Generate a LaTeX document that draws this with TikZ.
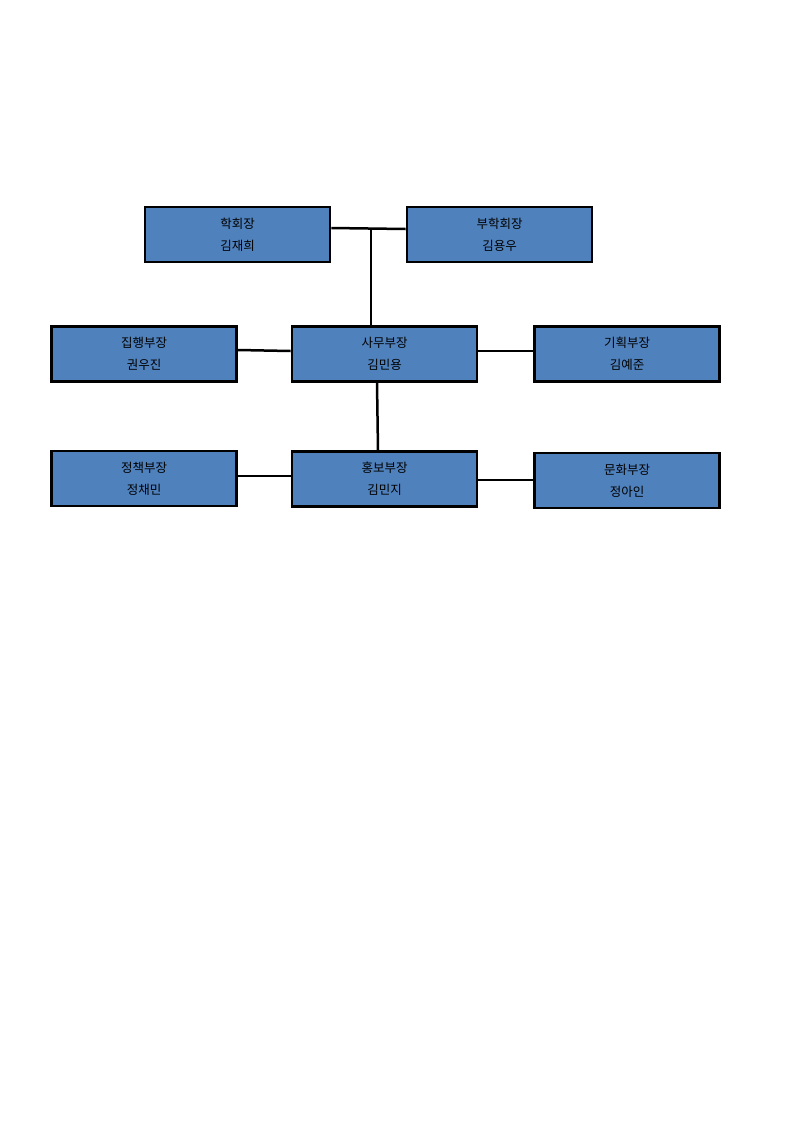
\documentclass[tikz,border=0pt]{standalone}
\usepackage{fontspec}
\newfontfamily\kr{Noto Sans CJK KR}
\definecolor{boxblue}{HTML}{4F81BD}
\begin{document}
\begin{tikzpicture}[x=1pt,y=-1pt,
  org/.style={draw=black,line width=2.8pt,fill=boxblue,minimum width=185pt,minimum height=55pt,inner sep=0pt,align=center,font=\kr\fontsize{12.5}{22}\selectfont},
  link/.style={line width=2.5pt,black}]
\useasboundingbox (0,0) rectangle (793,1122);
\node[org] (hak) at (237.5,234.5) {학회장\\김재희};
\node[org] (bu) at (499.5,234.5) {부학회장\\김용우};
\node[org] (jip) at (144,354) {집행부장\\권우진};
\node[org] (samu) at (384.5,354) {사무부장\\김민용};
\node[org] (gi) at (627,354) {기획부장\\김예준};
\node[org] (jeong) at (144,478.5) {정책부장\\정채민};
\node[org] (hong) at (384.5,479) {홍보부장\\김민지};
\node[org] (mun) at (627,480.5) {문화부장\\정아인};
\coordinate (j) at (371,228.5);
\draw[link] ([yshift=6.5pt]hak.east) -- ([yshift=5.5pt]bu.west);
\draw[link] (j) -- (j |- samu.north);
\draw[link] ([yshift=4pt]jip.east) -- ([yshift=3pt]samu.west);
\draw[link] ([yshift=3pt]samu.east) -- ([yshift=3pt]gi.east -| gi.west);
\draw[link] ([xshift=-7.5pt]samu.south) -- ([xshift=-6.5pt]hong.north);
\draw[link] ([yshift=2.5pt]jeong.east) -- ([yshift=3pt]hong.west);
\draw[link] ([yshift=-1pt]hong.east) -- ([yshift=0.5pt]mun.west);
\end{tikzpicture}
\end{document}
